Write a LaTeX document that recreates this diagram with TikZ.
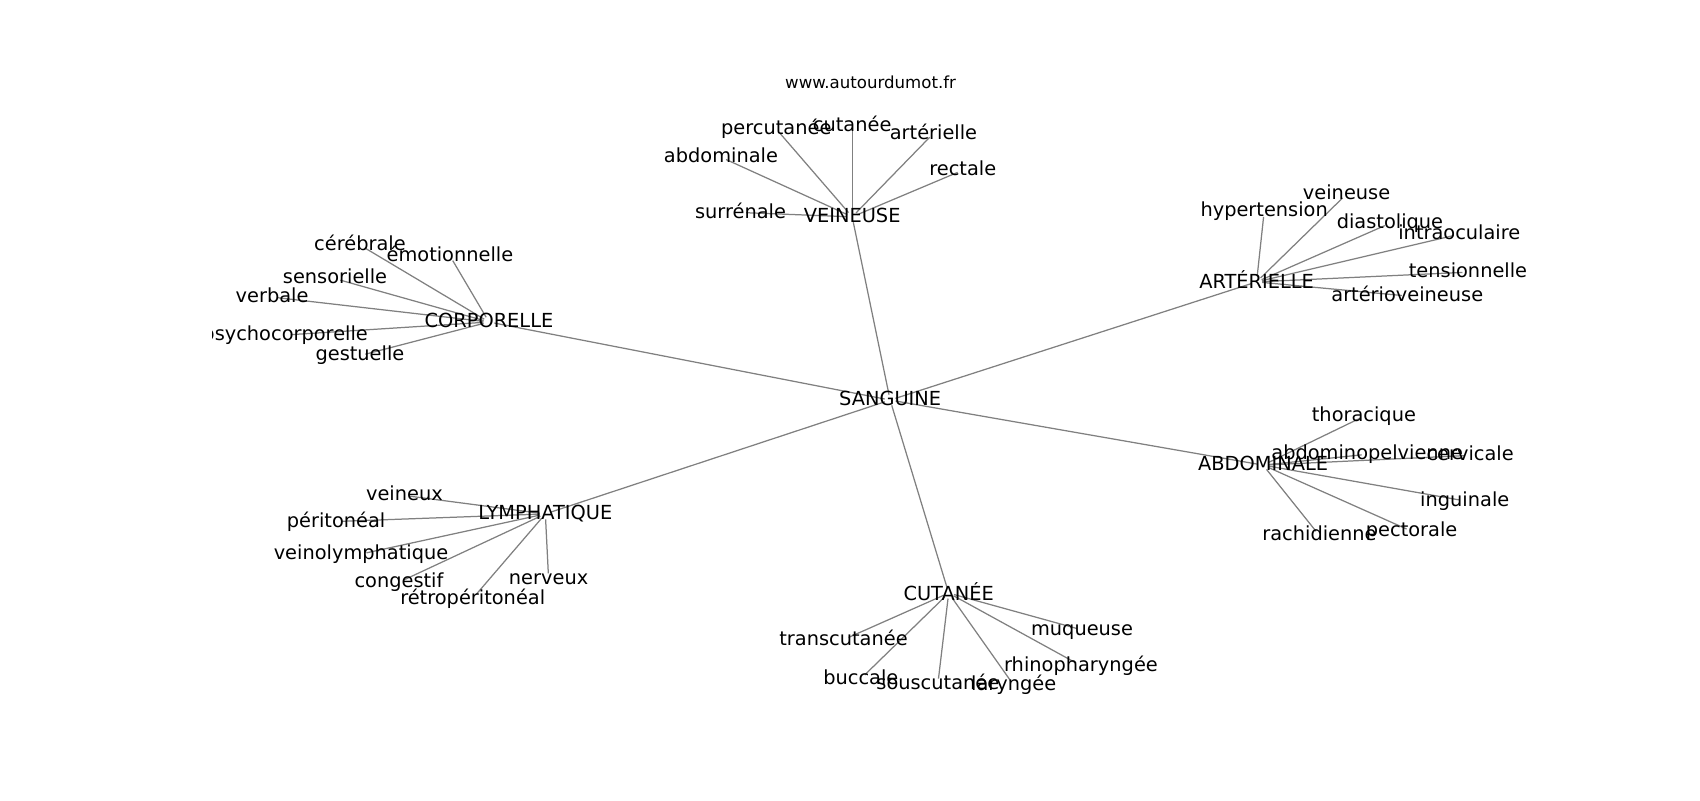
\documentclass[tikz,border=0pt]{standalone}
\usepackage{fontspec}
\setmainfont{DejaVu Sans}
\usetikzlibrary{backgrounds}
\tikzset{
  lab/.style={inner sep=0pt, font=\fontsize{14}{16}\selectfont, text=black,
    execute at begin node={\vphantom{lp}}, yshift=-0.55mm},
  ttl/.style={inner sep=0pt, font=\fontsize{12}{14}\selectfont, text=black},
  edge/.style={draw=gray, line width=0.9pt, shorten <=4pt, shorten >=4pt}
}
\begin{document}
\begin{tikzpicture}[x=0.2754mm, y=-0.2754mm]
\useasboundingbox (0,0) rectangle (1568,738);
\node[ttl] (title) at (803,76) {www.autourdumot.fr};
\begin{scope}
\clip (196,88.6) rectangle (1411,657);
% centre
\node[lab] (san) at (821,367) {SANGUINE};
% VEINEUSE
\node[lab] (vei) at (786,198) {VEINEUSE};
\node[lab] (v1) at (683,194) {surrénale};
\node[lab] (v2) at (665,143) {abdominale};
\node[lab] (v3) at (716,117) {percutanée};
\node[lab] (v4) at (786,114) {cutanée};
\node[lab] (v5) at (861,121) {artérielle};
\node[lab] (v6) at (888,155) {rectale};
% CORPORELLE
\node[lab] (cor) at (451,295) {CORPORELLE};
\node[lab] (c1) at (332,224) {cérébrale};
\node[lab] (c2) at (415,234) {émotionnelle};
\node[lab] (c3) at (309,255) {sensorielle};
\node[lab] (c4) at (251,272) {verbale};
\node[lab] (c5) at (263,307) {psychocorporelle};
\node[lab] (c6) at (332,326) {gestuelle};
% ARTERIELLE
\node[lab] (art) at (1159,258) {ARTÉRIELLE};
\node[lab] (a1) at (1166,193) {hypertension};
\node[lab] (a2) at (1242,177) {veineuse};
\node[lab] (a3) at (1282,204) {diastolique};
\node[lab] (a4) at (1346,214) {intraoculaire};
\node[lab] (a5) at (1354,249) {tensionnelle};
\node[lab] (a6) at (1298,271) {artérioveineuse};
% ABDOMINALE
\node[lab] (abd) at (1165,427) {ABDOMINALE};
\node[lab] (b1) at (1258,382) {thoracique};
\node[lab] (b2) at (1261,417) {abdominopelvienne};
\node[lab] (b3) at (1356,418) {cervicale};
\node[lab] (b4) at (1351,460) {inguinale};
\node[lab] (b5) at (1302,488) {pectorale};
\node[lab] (b6) at (1217,492) {rachidienne};
% LYMPHATIQUE
\node[lab] (lym) at (503,472) {LYMPHATIQUE};
\node[lab] (l1) at (373,455) {veineux};
\node[lab] (l2) at (310,479) {péritonéal};
\node[lab] (l3) at (333,509) {veinolymphatique};
\node[lab] (l4) at (368,535) {congestif};
\node[lab] (l5) at (436,550) {rétropéritonéal};
\node[lab] (l6) at (506,532) {nerveux};
% CUTANEE
\node[lab] (cut) at (875,545) {CUTANÉE};
\node[lab] (u1) at (778,588) {transcutanée};
\node[lab] (u2) at (794,624) {buccale};
\node[lab] (u3) at (865,629) {souscutanée};
\node[lab] (u4) at (935,630) {laryngée};
\node[lab] (u5) at (997,612) {rhinopharyngée};
\node[lab] (u6) at (998,579) {muqueuse};
\end{scope}
\begin{pgfonlayer}{background}
\foreach \h in {vei,cor,art,abd,lym,cut}
  \draw[edge] (san.center) -- (\h.center);
\foreach \c in {v1,v2,v3,v4,v5,v6}
  \draw[edge] (vei.center) -- (\c.center);
\foreach \c in {c1,c2,c3,c4,c5,c6}
  \draw[edge] (cor.center) -- (\c.center);
\foreach \c in {a1,a2,a3,a4,a5,a6}
  \draw[edge] (art.center) -- (\c.center);
\foreach \c in {b1,b2,b3,b4,b5,b6}
  \draw[edge] (abd.center) -- (\c.center);
\foreach \c in {l1,l2,l3,l4,l5,l6}
  \draw[edge] (lym.center) -- (\c.center);
\foreach \c in {u1,u2,u3,u4,u5,u6}
  \draw[edge] (cut.center) -- (\c.center);
\end{pgfonlayer}
\end{tikzpicture}
\end{document}
